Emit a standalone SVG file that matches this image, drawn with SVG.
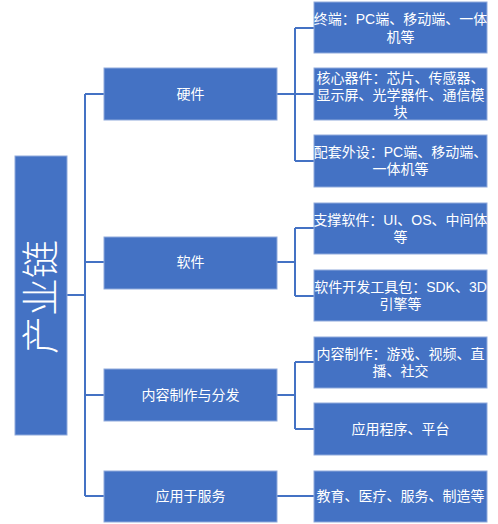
<svg xmlns="http://www.w3.org/2000/svg" width="498" height="524" viewBox="0 0 498 524">
<style>
.box{fill:#4472C4;stroke:#8FAADC;stroke-width:1}
.t{fill:#fff;font-family:"Liberation Sans","Noto Sans CJK SC",sans-serif;font-size:14px;text-anchor:middle}
.big{fill:#fff;font-family:"Noto Sans CJK SC",sans-serif;font-size:38px;text-anchor:middle;font-weight:300}
.c{fill:none;stroke:#4472C4;stroke-width:2}
</style>
<rect width="498" height="524" fill="#fff"/>
<g id="connectors">
<path class="c" d="M67,295 H85 M85,94 V496 M85,94 H104 M85,262 H104 M85,395 H104 M85,496 H104"/>
<path class="c" d="M277,94 H295 M295,28 V161 M295,28 H314 M295,94 H314 M295,161 H314"/>
<path class="c" d="M277,262 H295 M295,228 V296 M295,228 H314 M295,296 H314"/>
<path class="c" d="M277,395 H295 M295,362 V429 M295,362 H314 M295,429 H314"/>
<path class="c" d="M277,496 H314"/>
</g>
<g id="root"><rect class="box" x="15" y="156" width="52" height="279"/><text class="big" transform="translate(54,297) rotate(-90)">产业链</text></g>
<g id="hw"><rect class="box" x="104" y="68" width="173" height="52"/><text class="t" x="190.5" y="99">硬件</text></g>
<g id="sw"><rect class="box" x="104" y="237" width="173" height="52"/><text class="t" x="190.5" y="267">软件</text></g>
<g id="content"><rect class="box" x="104" y="369" width="173" height="52"/><text class="t" x="190.5" y="400">内容制作与分发</text></g>
<g id="service"><rect class="box" x="104" y="471" width="173" height="51"/><text class="t" x="190.5" y="501">应用于服务</text></g>
<g id="terminal"><rect class="box" x="314" y="2" width="173" height="51"/><text class="t" x="400.5" y="24">终端：PC端、移动端、一体</text><text class="t" x="400.5" y="42">机等</text></g>
<g id="core"><rect class="box" x="314" y="68" width="173" height="52"/><text class="t" x="400.5" y="83">核心器件：芯片、传感器、</text><text class="t" x="400.5" y="100">显示屏、光学器件、通信模</text><text class="t" x="400.5" y="117">块</text></g>
<g id="periph"><rect class="box" x="314" y="135" width="173" height="52"/><text class="t" x="400.5" y="157">配套外设：PC端、移动端、</text><text class="t" x="400.5" y="174">一体机等</text></g>
<g id="support"><rect class="box" x="314" y="203" width="173" height="51"/><text class="t" x="400.5" y="225">支撑软件：UI、OS、中间体</text><text class="t" x="400.5" y="242">等</text></g>
<g id="sdk"><rect class="box" x="314" y="270" width="173" height="51"/><text class="t" x="400.5" y="292">软件开发工具包：SDK、3D</text><text class="t" x="400.5" y="309">引擎等</text></g>
<g id="produce"><rect class="box" x="314" y="337" width="173" height="51"/><text class="t" x="400.5" y="359">内容制作：游戏、视频、直</text><text class="t" x="400.5" y="376">播、社交</text></g>
<g id="apps"><rect class="box" x="314" y="403" width="173" height="52"/><text class="t" x="400.5" y="434">应用程序、平台</text></g>
<g id="fields"><rect class="box" x="314" y="471" width="173" height="51"/><text class="t" x="400.5" y="501">教育、医疗、服务、制造等</text></g>
</svg>
